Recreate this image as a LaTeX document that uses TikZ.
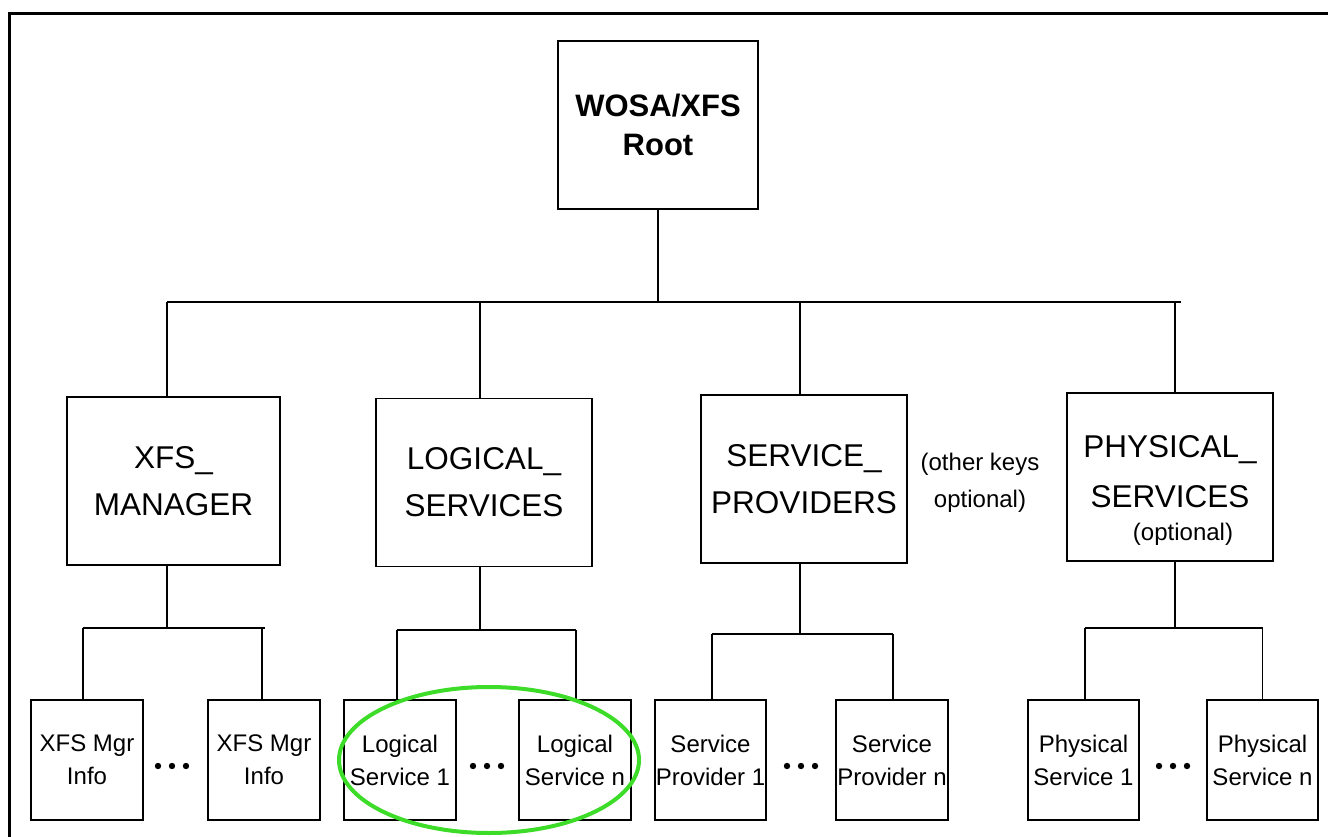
\documentclass[tikz,border=0pt]{standalone}
\usepackage{fontspec}
\setmainfont{Liberation Sans}
\definecolor{hlgreen}{RGB}{60,220,40}
\begin{document}
\begin{tikzpicture}[x=1pt,y=-1pt,
  box/.style={draw, line width=1.6pt, inner sep=0pt, align=center},
  rootbox/.style={box, minimum width=200pt, minimum height=168pt, font=\bfseries\fontsize{31}{39}\selectfont},
  midbox/.style={box, minimum height=168pt, font=\fontsize{31.5}{47}\selectfont},
  leaf/.style={box, minimum width=112pt, minimum height=120pt, font=\fontsize{24}{33}\selectfont},
  conn/.style={line width=1.6pt},
  subbus/.style={line width=2.6pt},
  note/.style={inner sep=0pt, align=center, font=\fontsize{24}{37}\selectfont},
  dot/.style={fill=black}
]
\useasboundingbox (0,0) rectangle (1328,837);
% frame
\draw[line width=3pt] (9,837) -- (9,14) -- (1328,14);

% root
\node[rootbox] (root) at (658,125) {WOSA/XFS\\Root};

% level 2
\node[midbox, minimum width=213pt] (xm) at (173.5,481) {XFS\_\\MANAGER};
\node[midbox, minimum width=216pt] (ls) at (484,482.5) {LOGICAL\_\\SERVICES};
\node[midbox, minimum width=206pt] (sp) at (804,479) {SERVICE\_\\PROVIDERS};
\node[midbox, minimum width=206pt] (ps) at (1170,477) {};
\node[note, font=\fontsize{31.5}{50}\selectfont] (pstext) at (1170,472) {PHYSICAL\_\\SERVICES};
\node[note] (psopt) at (1183,534) {(optional)};
\node[note] (other) at (980,483) {(other keys\\optional)};

% level 3
\node[leaf] (x1) at (87,760) {XFS Mgr\\Info};
\node[leaf] (x2) at (264,760) {XFS Mgr\\Info};
\node[leaf] (l1) at (400,760) {Logical\\Service 1};
\node[leaf] (l2) at (575,760) {Logical\\Service n};
\node[leaf, minimum width=111pt] (s1) at (710.5,760) {Service\\Provider 1};
\node[leaf] (s2) at (892,760) {Service\\Provider n};
\node[leaf, minimum width=111pt] (p1) at (1083.5,760) {Physical\\Service 1};
\node[leaf, minimum width=111pt] (p2) at (1262.5,760) {Physical\\Service n};

% top bus
\coordinate (busL) at (167,302);
\coordinate (busR) at (1181,302);
\draw[conn] (root.south) -- (root.south |- busL);
\draw[conn] (busL) -- (busR);
\draw[conn] ([xshift=-6.5pt]xm.north) -- ([xshift=-6.5pt]xm.north |- busL);
\draw[conn] ([xshift=-4pt]ls.north) -- ([xshift=-4pt]ls.north |- busL);
\draw[conn] ([xshift=-4pt]sp.north) -- ([xshift=-4pt]sp.north |- busL);
\draw[conn] ([xshift=5pt]ps.north) -- ([xshift=5pt]ps.north |- busL);

% XFS manager sub-tree
\coordinate (xmb) at (167,628);
\draw[conn] ([xshift=-6.5pt]xm.south) -- (xmb);
\draw[subbus] ([xshift=-4pt]x1.north |- xmb) -- ([xshift=1pt]x2.north |- xmb);
\draw[conn] ([xshift=-4pt]x1.north) -- ([xshift=-4pt]x1.north |- xmb);
\draw[conn] ([xshift=-2pt]x2.north) -- ([xshift=-2pt]x2.north |- xmb);

% logical services sub-tree
\coordinate (lsb) at (480,630);
\draw[conn] ([xshift=-4pt]ls.south) -- (lsb);
\draw[subbus] ([xshift=-3pt]l1.north |- lsb) -- ([xshift=1pt]l2.north |- lsb);
\draw[conn] ([xshift=-3pt]l1.north) -- ([xshift=-3pt]l1.north |- lsb);
\draw[conn] ([xshift=1pt]l2.north) -- ([xshift=1pt]l2.north |- lsb);

% service providers sub-tree
\coordinate (spb) at (800,634);
\draw[conn] ([xshift=-4pt]sp.south) -- (spb);
\draw[subbus] ([xshift=1.5pt]s1.north |- spb) -- ([xshift=1pt]s2.north |- spb);
\draw[conn] ([xshift=1.5pt]s1.north) -- ([xshift=1.5pt]s1.north |- spb);
\draw[conn] ([xshift=1pt]s2.north) -- ([xshift=1pt]s2.north |- spb);

% physical services sub-tree
\coordinate (psb) at (1175,628);
\draw[conn] ([xshift=5pt]ps.south) -- (psb);
\draw[subbus] ([xshift=1.5pt]p1.north |- psb) -- ([xshift=0.5pt]p2.north |- psb);
\draw[conn] ([xshift=1.5pt]p1.north) -- ([xshift=1.5pt]p1.north |- psb);
\draw[conn] (p2.north) -- (p2.north |- psb);

% ellipsis dots
\foreach \cx in {172,487,801,1173}{
  \foreach \dx in {-14,0,14}{
    \fill[dot] (\cx+\dx,766) circle (3.2pt);
  }
}

% highlight
\draw[hlgreen, line width=4pt] (489,760) ellipse (150pt and 73pt);
\end{tikzpicture}
\end{document}
